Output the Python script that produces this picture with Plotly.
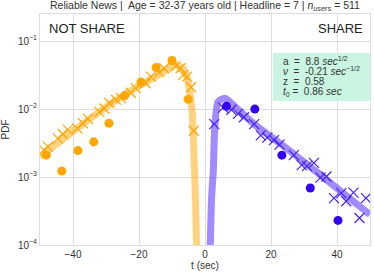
import plotly.graph_objects as go

# ---- data ----
ns_circle_t = [-48.1, -43.4, -38.5, -33.7, -29.1, -24.3, -19.4, -14.8, -10.0, -5.1]
ns_circle_p = [0.0021, 0.00123, 0.00245, 0.0033, 0.0062, 0.0158, 0.025, 0.041, 0.052, 0.014]

ns_x_t = [-48.8, -47.6, -44.6, -43.1, -41.6, -38.7, -37.0, -35.5, -32.0, -30.5, -29.0, -27.0,
          -25.5, -22.5, -21.0, -18.0, -16.4, -13.9, -12.4, -8.9, -7.4, -6.6, -5.4, -4.2, -3.4]
ns_x_p = [0.0025, 0.0028, 0.0037, 0.0043, 0.0050, 0.0052, 0.0062, 0.0072, 0.0091, 0.0102,
          0.0123, 0.0138, 0.0145, 0.0174, 0.0204, 0.024, 0.030, 0.035, 0.040, 0.043, 0.040,
          0.032, 0.030, 0.021, 0.0048]

ns_fit_t = [-50.0, -40.0, -30.0, -20.0, -15.0, -10.0, -8.8, -6.3, -5.3, -4.3, -3.8, -3.3, -2.9, -2.5]
ns_fit_p = [0.0020, 0.0047, 0.0107, 0.022, 0.030, 0.042, 0.045, 0.038, 0.027, 0.0138, 0.0078, 0.0018,
            0.0005, 0.00008]

sh_circle_t = [6.5, 15.1, 23.3, 31.9, 40.3]
sh_circle_p = [0.011, 0.010, 0.0021, 0.00069, 0.00023]

sh_x_t = [2.8, 5.5, 8.0, 10.0, 11.8, 14.9, 16.9, 18.9, 20.9, 22.6, 26.9, 29.3, 30.9, 33.0,
          35.0, 36.8, 39.1, 41.3, 42.8, 45.0, 46.8, 48.8]
sh_x_p = [0.0060, 0.0105, 0.0098, 0.0085, 0.0076, 0.0060, 0.0041, 0.0038, 0.0035, 0.0030,
          0.0021, 0.0015, 0.00145, 0.00162, 0.00098, 0.00102, 0.00049, 0.00058, 0.00044,
          0.00059, 0.00025, 0.00049]

sh_fit_t = [1.6, 2.0, 2.5, 3.0, 4.0, 6.0, 9.0, 15.1, 24.1, 35.0, 50.0]
sh_fit_p = [0.0001, 0.0005, 0.0012, 0.0059, 0.0129, 0.0145, 0.0110, 0.0059, 0.0028, 0.00107, 0.00028]

x_ticks = [-40, -20, 0, 20, 40]
y_ticks = [1e-4, 1e-3, 1e-2, 1e-1]
y_ticktext = ["10<sup>\u22124</sup>", "10<sup>\u22123</sup>", "10<sup>\u22122</sup>", "10<sup>\u22121</sup>"]

title_text = "Reliable News |  Age = 32-37 years old | Headline = 7 | <i>n</i><sub><i>users</i></sub> = 511"
param_lines = ["a  =  8.8 <i>sec</i><sup>1/2</sup>",
               "<i>\u03bd</i>  =  -0.21 <i>sec</i><sup>\u22121/2</sup>",
               "z  =  0.58",
               "<i>t</i><sub>0</sub> =  0.86 <i>sec</i>"]

ORANGE = "#FFA500"
BLUE = "#3300F0"

fig = go.Figure()
fig.add_trace(go.Scatter(x=ns_fit_t, y=ns_fit_p, mode="lines", line=dict(color="rgba(255,165,0,0.5)", width=7, shape="spline", smoothing=0.6), showlegend=False))
fig.add_trace(go.Scatter(x=sh_fit_t, y=sh_fit_p, mode="lines", line=dict(color="rgba(100,60,255,0.6)", width=7, shape="spline", smoothing=0.6), showlegend=False))
fig.add_trace(go.Scatter(x=ns_x_t, y=ns_x_p, mode="markers",
                         marker=dict(symbol="x-thin-open", size=10, color=ORANGE, line=dict(color=ORANGE, width=1.2)), showlegend=False))
fig.add_trace(go.Scatter(x=ns_circle_t, y=ns_circle_p, mode="markers",
                         marker=dict(symbol="circle", size=9, color=ORANGE), showlegend=False))
fig.add_trace(go.Scatter(x=sh_x_t, y=sh_x_p, mode="markers",
                         marker=dict(symbol="x-thin-open", size=10, color="#4420F5", line=dict(color="#4420F5", width=1.2)), showlegend=False))
fig.add_trace(go.Scatter(x=sh_circle_t, y=sh_circle_p, mode="markers",
                         marker=dict(symbol="circle", size=9, color=BLUE), showlegend=False))

annotations = [
    dict(text=title_text, x=0.5, y=1.0, xref="paper", yref="paper", xanchor="center", yanchor="bottom",
         yshift=-1, showarrow=False, font=dict(size=10.5, color="#333")),
    dict(text="NOT SHARE", x=0.02, y=0.978, xref="paper", yref="paper", xanchor="left", yanchor="top",
         showarrow=False, font=dict(size=13, color="#222")),
    dict(text="SHARE", x=0.985, y=0.978, xref="paper", yref="paper", xanchor="right", yanchor="top",
         showarrow=False, font=dict(size=13, color="#222")),
]
line_y = [0.797, 0.753, 0.708, 0.664]
for txt, yy in zip(param_lines, line_y):
    annotations.append(dict(text=txt, x=0.73, y=yy, xref="paper", yref="paper", xanchor="left",
                            yanchor="middle", showarrow=False, font=dict(size=10, color="#333")))

fig.update_layout(
    width=374, height=275,
    margin=dict(l=40, r=4, t=14, b=30),
    paper_bgcolor="white", plot_bgcolor="white",
    font=dict(family="Liberation Sans, Arial, sans-serif", size=10, color="#333"),
    xaxis=dict(range=[-50, 50], tickvals=x_ticks, showgrid=True, gridcolor="#dddddd", gridwidth=1,
               zeroline=False, showline=True, linecolor="#dddddd", mirror=True, ticks="",
               title=dict(text="t (sec)", standoff=2, font=dict(size=10)), tickfont=dict(size=10)),
    yaxis=dict(type="log", range=[-4, -0.6], tickvals=y_ticks, ticktext=y_ticktext,
               showgrid=True, gridcolor="#dddddd", gridwidth=1, zeroline=False,
               showline=True, linecolor="#dddddd", mirror=True, ticks="",
               title=dict(text="PDF", standoff=6, font=dict(size=10)), tickfont=dict(size=10)),
    shapes=[dict(type="rect", xref="paper", yref="paper", x0=0.706, x1=1.0, y0=0.623, y1=0.831,
                 fillcolor="#c9f5e2", line=dict(width=0), layer="above")],
    annotations=annotations,
)
fig.write_html("out.html", config={"displayModeBar": False},
               post_script="document.body.style.margin='0';document.body.style.overflow='hidden';")
